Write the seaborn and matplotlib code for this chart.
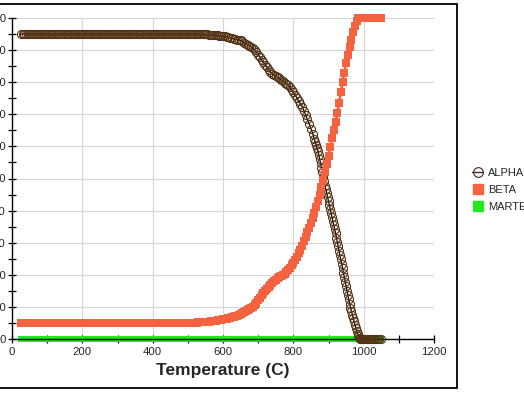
import matplotlib
matplotlib.use("Agg")
import matplotlib.pyplot as plt
from matplotlib.lines import Line2D
from matplotlib.patches import Rectangle
from matplotlib.ticker import MultipleLocator
import seaborn as sns
import pandas as pd

# ---------------- data ----------------
temps_low = [25, 30, 35, 40, 45, 50, 55, 60, 65, 70, 75, 80, 85, 90, 95,
             100, 105, 110, 115, 120, 125, 130, 135, 140, 145, 150, 155, 160, 165, 170,
             175, 180, 185, 190, 195, 200, 205, 210, 215, 220, 225, 230, 235, 240, 245,
             250, 255, 260, 265, 270, 275, 280, 285, 290, 295, 300, 305, 310, 315, 320,
             325, 330, 335, 340, 345, 350, 355, 360, 365, 370, 375, 380, 385, 390, 395,
             400, 405, 410, 415, 420, 425, 430, 435, 440, 445, 450, 455, 460, 465, 470,
             475, 480, 485, 490, 495, 500, 505, 510, 515, 520, 525, 530, 535, 540, 545]
alpha_low = [95.0, 95.0, 95.0, 95.0, 95.0, 95.0, 95.0, 95.0, 95.0, 95.0, 95.0, 95.0, 95.0, 95.0, 95.0,
             95.0, 95.0, 95.0, 95.0, 95.0, 95.0, 95.0, 95.0, 95.0, 95.0, 95.0, 95.0, 95.0, 95.0, 95.0,
             95.0, 95.0, 95.0, 95.0, 95.0, 95.0, 95.0, 95.0, 95.0, 95.0, 95.0, 95.0, 95.0, 95.0, 95.0,
             95.0, 95.0, 95.0, 95.0, 95.0, 95.0, 95.0, 95.0, 95.0, 95.0, 95.0, 95.0, 95.0, 95.0, 95.0,
             95.0, 95.0, 95.0, 95.0, 95.0, 95.0, 95.0, 95.0, 95.0, 95.0, 95.0, 95.0, 95.0, 95.0, 95.0,
             95.0, 95.0, 95.0, 95.0, 95.0, 95.0, 95.0, 95.0, 95.0, 95.0, 95.0, 95.0, 95.0, 95.0, 95.0,
             95.0, 95.0, 95.0, 95.0, 95.0, 95.0, 95.0, 95.0, 95.0, 95.0, 94.9, 94.9, 94.9, 94.9, 94.9]
beta_low = [5.0, 5.0, 5.0, 5.0, 5.0, 5.0, 5.0, 5.0, 5.0, 5.0, 5.0, 5.0, 5.0, 5.0, 5.0,
            5.0, 5.0, 5.0, 5.0, 5.0, 5.0, 5.0, 5.0, 5.0, 5.0, 5.0, 5.0, 5.0, 5.0, 5.0,
            5.0, 5.0, 5.0, 5.0, 5.0, 5.0, 5.0, 5.0, 5.0, 5.0, 5.0, 5.0, 5.0, 5.0, 5.0,
            5.0, 5.0, 5.0, 5.0, 5.0, 5.0, 5.0, 5.0, 5.0, 5.0, 5.0, 5.0, 5.0, 5.0, 5.0,
            5.0, 5.0, 5.0, 5.0, 5.0, 5.0, 5.0, 5.0, 5.0, 5.0, 5.0, 5.0, 5.0, 5.0, 5.0,
            5.0, 5.0, 5.0, 5.0, 5.0, 5.0, 5.0, 5.0, 5.0, 5.0, 5.0, 5.0, 5.0, 5.0, 5.0,
            5.0, 5.0, 5.0, 5.0, 5.1, 5.1, 5.1, 5.1, 5.1, 5.1, 5.1, 5.2, 5.2, 5.2, 5.3]

temps_mid = [550, 555, 560, 565, 570, 575, 580, 585, 590, 595, 600,
             605, 610, 615, 620, 625, 630, 635, 640, 645, 650,
             655, 660, 665, 670, 675, 680, 685, 690, 695, 700,
             705, 710, 715, 720, 725, 730, 735, 740, 745, 750,
             755, 760, 765, 770, 775, 780, 785, 790, 795, 800,
             805, 810, 815, 820, 825, 830, 835, 840, 845, 850, 855]
alpha_mid = [94.9, 94.9, 94.8, 94.8, 94.7, 94.7, 94.6, 94.6, 94.5, 94.5, 94.4,
             94.3, 94.2, 94.0, 93.9, 93.8, 93.6, 93.5, 93.3, 93.2, 93.0,
             92.7, 92.3, 92.0, 91.6, 91.3, 91.0, 90.6, 90.0, 89.3, 88.6,
             87.8, 87.0, 86.2, 85.4, 84.6, 83.9, 83.2, 82.7, 82.2, 81.8,
             81.5, 81.2, 80.8, 80.4, 79.9, 79.5, 79.1, 78.4, 77.6, 76.8,
             76.0, 75.1, 74.2, 73.3, 72.4, 71.1, 69.8, 68.4, 67.0, 65.5, 64.0]
beta_mid = [5.3, 5.4, 5.4, 5.5, 5.5, 5.6, 5.7, 5.8, 5.9, 6.0, 6.1,
            6.2, 6.3, 6.4, 6.5, 6.7, 6.9, 7.1, 7.3, 7.5, 7.8,
            8.0, 8.3, 8.7, 9.0, 9.4, 9.7, 10.0, 10.6, 11.3, 12.0,
            12.8, 13.6, 14.3, 15.0, 15.7, 16.3, 16.9, 17.5, 18.0, 18.5,
            18.9, 19.2, 19.5, 19.9, 20.3, 20.8, 21.5, 22.2, 22.9, 23.6,
            24.6, 25.6, 26.7, 27.8, 29.0, 30.4, 31.8, 33.3, 34.6, 36.0, 37.6]

# steep part: alpha sampled more densely than beta
temps_alpha_steep = [860, 862.5, 865, 867.5, 870, 872.5, 875, 877.5, 880, 882.5,
                     885, 887.5, 890, 892.5, 895, 897.5, 900, 902.5, 905, 907.5,
                     910, 912.5, 915, 917.5, 920, 922.5, 925, 927.5, 930, 932.5,
                     935, 937.5, 940, 942.5, 945, 947.5, 950, 952.5, 955, 957.5,
                     960, 962.5, 965, 967.5, 970, 972.5, 975, 977.5, 980, 982.5,
                     985, 987.5, 990, 992.5, 995, 997.5, 1000]
alpha_steep = [62.2, 61.3, 60.4, 59.5, 58.5, 57.3, 56.0, 54.7, 53.3, 51.9,
               50.5, 49.1, 47.8, 46.6, 45.5, 44.2, 43.0, 41.7, 40.5, 39.2,
               38.0, 36.7, 35.5, 34.2, 33.0, 31.6, 30.3, 28.9, 27.5, 26.1,
               24.8, 23.4, 22.0, 20.6, 19.3, 17.9, 16.5, 15.1, 13.8, 12.4,
               11.0, 9.8, 8.7, 7.6, 6.5, 5.5, 4.5, 3.5, 2.5, 1.7,
               1.0, 0.4, 0.0, 0.0, 0.0, 0.0, 0.0]
temps_beta_steep = [860, 865, 870, 875, 880, 885, 890, 895, 900,
                    905, 910, 915, 920, 925, 930, 935, 940, 945, 950,
                    955, 960, 965, 970, 975, 980, 985, 990, 995, 1000]
beta_steep = [39.3, 41.0, 43.0, 45.0, 47.3, 49.5, 52.0, 54.5, 57.0,
              59.7, 62.5, 65.0, 67.5, 70.5, 73.5, 76.8, 80.0, 83.0, 86.0,
              88.5, 91.0, 93.3, 95.5, 97.5, 99.0, 100.0, 100.0, 100.0, 100.0]

temps_high = [1005, 1010, 1015, 1020, 1025, 1030, 1035, 1040, 1045, 1050]
alpha_high = [0.0, 0.0, 0.0, 0.0, 0.0, 0.0, 0.0, 0.0, 0.0, 0.0]
beta_high = [100.0, 100.0, 100.0, 100.0, 100.0, 100.0, 100.0, 100.0, 100.0, 100.0]

series_names = ["ALPHA", "BETA", "MARTENSITE"]
x_tick_labels = ["0", "200", "400", "600", "800", "1000", "1200"]
y_tick_labels = ["0", "10", "20", "30", "40", "50", "60", "70", "80", "90", "100"]
x_label = "Temperature (C)"

# ---------------- build tables ----------------
alpha_df = pd.DataFrame({
    "T": temps_low + temps_mid + temps_alpha_steep + temps_high,
    "v": alpha_low + alpha_mid + alpha_steep + alpha_high,
})
beta_T = temps_low + temps_mid + temps_beta_steep + temps_high
beta_df = pd.DataFrame({
    "T": beta_T,
    "v": beta_low + beta_mid + beta_steep + beta_high,
})
mart_df = pd.DataFrame({"T": beta_T, "v": [0.0] * len(beta_T)})

sns.set_style("white")
plt.rcParams["font.family"] = ["Liberation Sans", "DejaVu Sans"]

ALPHA_EDGE = "#553416"
BETA_COL = "#F4623F"
MART_COL = "#22E822"

fig = plt.figure(figsize=(5.24, 3.93), dpi=100)
ax = fig.add_axes([12 / 524, 54 / 393, 422 / 524, 321 / 393])

sns.lineplot(data=mart_df, x="T", y="v", ax=ax, color=MART_COL, lw=3,
             marker="s", markersize=4, markeredgewidth=0, markeredgecolor=MART_COL,
             estimator=None, sort=False, legend=False, zorder=2, clip_on=False)
sns.lineplot(data=alpha_df, x="T", y="v", ax=ax, color="black", lw=0.9,
             marker="o", markersize=5.8, markerfacecolor="none",
             markeredgecolor=ALPHA_EDGE, markeredgewidth=0.8,
             estimator=None, sort=False, legend=False, zorder=3, clip_on=False)
sns.lineplot(data=beta_df, x="T", y="v", ax=ax, color=BETA_COL, lw=2,
             marker="s", markersize=5.2, markeredgewidth=0, markeredgecolor=BETA_COL,
             estimator=None, sort=False, legend=False, zorder=4, clip_on=False)

ax.set_xlim(0, 1200)
ax.set_ylim(0, 100)
ax.set_xticks(range(0, 1201, 200))
ax.set_xticklabels(x_tick_labels)
ax.set_yticks(range(0, 101, 10))
ax.set_yticklabels(y_tick_labels)
ax.xaxis.set_minor_locator(MultipleLocator(100))
ax.yaxis.set_minor_locator(MultipleLocator(5))
ax.grid(True, which="major", color="#d6d6d6", lw=0.8)
ax.set_axisbelow(True)
for s in ["top", "right"]:
    ax.spines[s].set_visible(False)
for s in ["left", "bottom"]:
    ax.spines[s].set_color("black")
    ax.spines[s].set_linewidth(1.0)
ax.tick_params(which="both", direction="inout", length=6, width=0.9,
               color="black", labelsize=8.2, left=True, bottom=True)
ax.tick_params(axis="y", pad=1.5)
ax.tick_params(axis="x", pad=3)
ax.set_xlabel(x_label, fontsize=12.5, fontweight="bold", labelpad=4)
ax.set_ylabel("")

handles = [
    Line2D([], [], color="#3a2a1a", lw=1, marker="o", markersize=7,
           markerfacecolor="none", markeredgecolor="#3a2a1a", markeredgewidth=0.8),
    Line2D([], [], color=BETA_COL, ls="none", marker="s", markersize=7.5),
    Line2D([], [], color=MART_COL, ls="none", marker="s", markersize=7.5),
]
fig.legend(handles, series_names, loc="upper left",
           bbox_to_anchor=(472 / 524, (393 - 168) / 393), frameon=False,
           fontsize=8.0, borderpad=0, borderaxespad=0, handlelength=1.0,
           handletextpad=0.45, labelspacing=0.62)

fig.patches.append(Rectangle((-0.05, 5 / 393), 456.5 / 524 + 0.05, 384 / 393,
                             transform=fig.transFigure, fill=False,
                             edgecolor="black", lw=1.3))

fig.savefig("out.png", dpi=100)
